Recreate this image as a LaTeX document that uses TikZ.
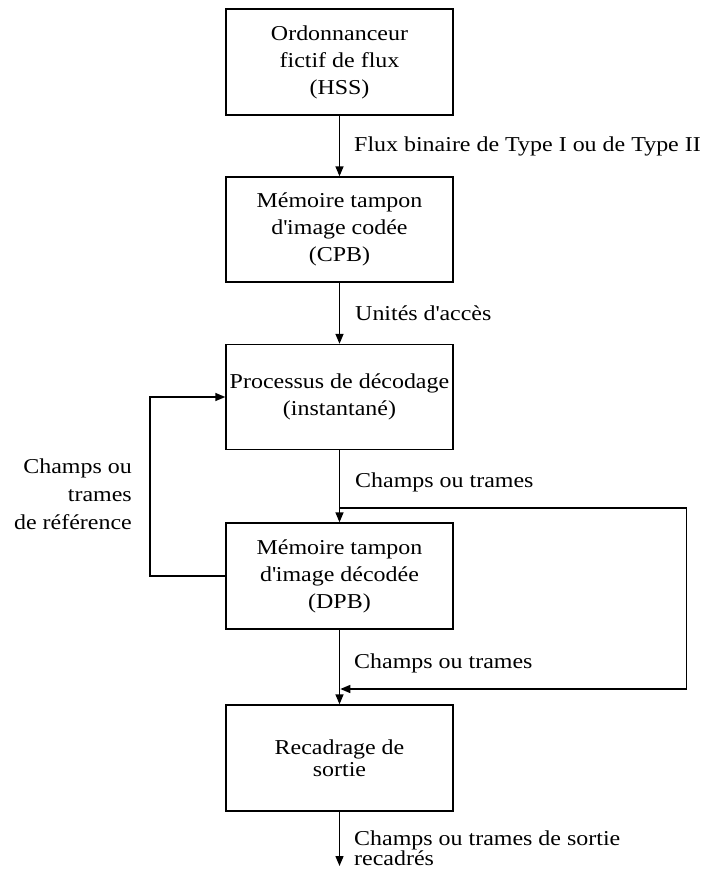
\documentclass[tikz,border=0pt]{standalone}
\usepackage{fontspec}
\setmainfont[FakeStretch=1.13]{Liberation Serif}
\usetikzlibrary{arrows.meta}
\newcommand\txt{\fontsize{21.2}{27}\selectfont}
\begin{document}
\begin{tikzpicture}[x=1pt,y=-1pt,
  stage/.style={draw, line width=1.4pt, minimum width=227pt, minimum height=106pt,
    inner sep=0pt, align=center, font=\txt},
  flow/.style={line width=1.4pt, -{Triangle[length=10pt,width=8pt]}},
  wire/.style={line width=1.4pt},
  lab/.style={anchor=base west, inner sep=0pt, font=\txt}]
\useasboundingbox (0,0) rectangle (706,870);

% processing stages
\node[stage] (hss) at (339.5,62) {Ordonnanceur\\fictif de flux\\(HSS)};
\node[stage, minimum height=105pt] (cpb) at (339.5,229.5)
  {Mémoire tampon\\d\textquotesingle image codée\\(CPB)};
\node[stage, minimum height=105pt] (dec) at (339.5,397)
  {Processus de décodage\\(instantané)};
\node[stage] (dpb) at (339.5,576)
  {Mémoire tampon\\d\textquotesingle image décodée\\(DPB)};
\node[stage, font=\fontsize{21.2}{21.5}\selectfont] (crop) at (339.5,758)
  {Recadrage de\\sortie};

% helper points of the bypass and the output
\coordinate (split) at (339.5,508);
\coordinate (ne) at (686.5,508);
\coordinate (se) at (686.5,689);
\coordinate (merge) at (340.3,689);
\coordinate (out) at (339.5,866);

% main chain
\draw[flow] (hss) -- (cpb);
\draw[flow] (cpb) -- (dec);
\draw[flow] (dec) -- (dpb);
\draw[flow] (dpb) -- (crop);
\draw[flow] (crop) -- (out);

% bypass of the decoded picture buffer
\draw[wire] (split) -- (ne) -- (se);
\draw[flow] (se) -- (merge);

% reference fields fed back to decoding
\draw[flow] (dpb.west) -- ++(-75.5,0) |- (dec.west);

% connector labels
\node[lab] (l1) at (354,151.7) {Flux binaire de Type I ou de Type II};
\node[lab] (l2) at (355,320.7) {Unités d\textquotesingle accès};
\node[lab] (l3) at (355,487.3) {Champs ou trames};
\node[lab] (l4) at (354,668) {Champs ou trames};
\node[lab] (l5) at (354,845)
  {\vtop{\baselineskip=20.5pt\hbox{Champs ou trames de sortie}\hbox{recadrés}}};
\node[anchor=base east, inner sep=0pt, font=\txt] (l6) at (132,473)
  {\vtop{\baselineskip=28pt\halign{\hfil#\cr Champs ou\cr trames\cr de référence\cr}}};
\end{tikzpicture}
\end{document}
